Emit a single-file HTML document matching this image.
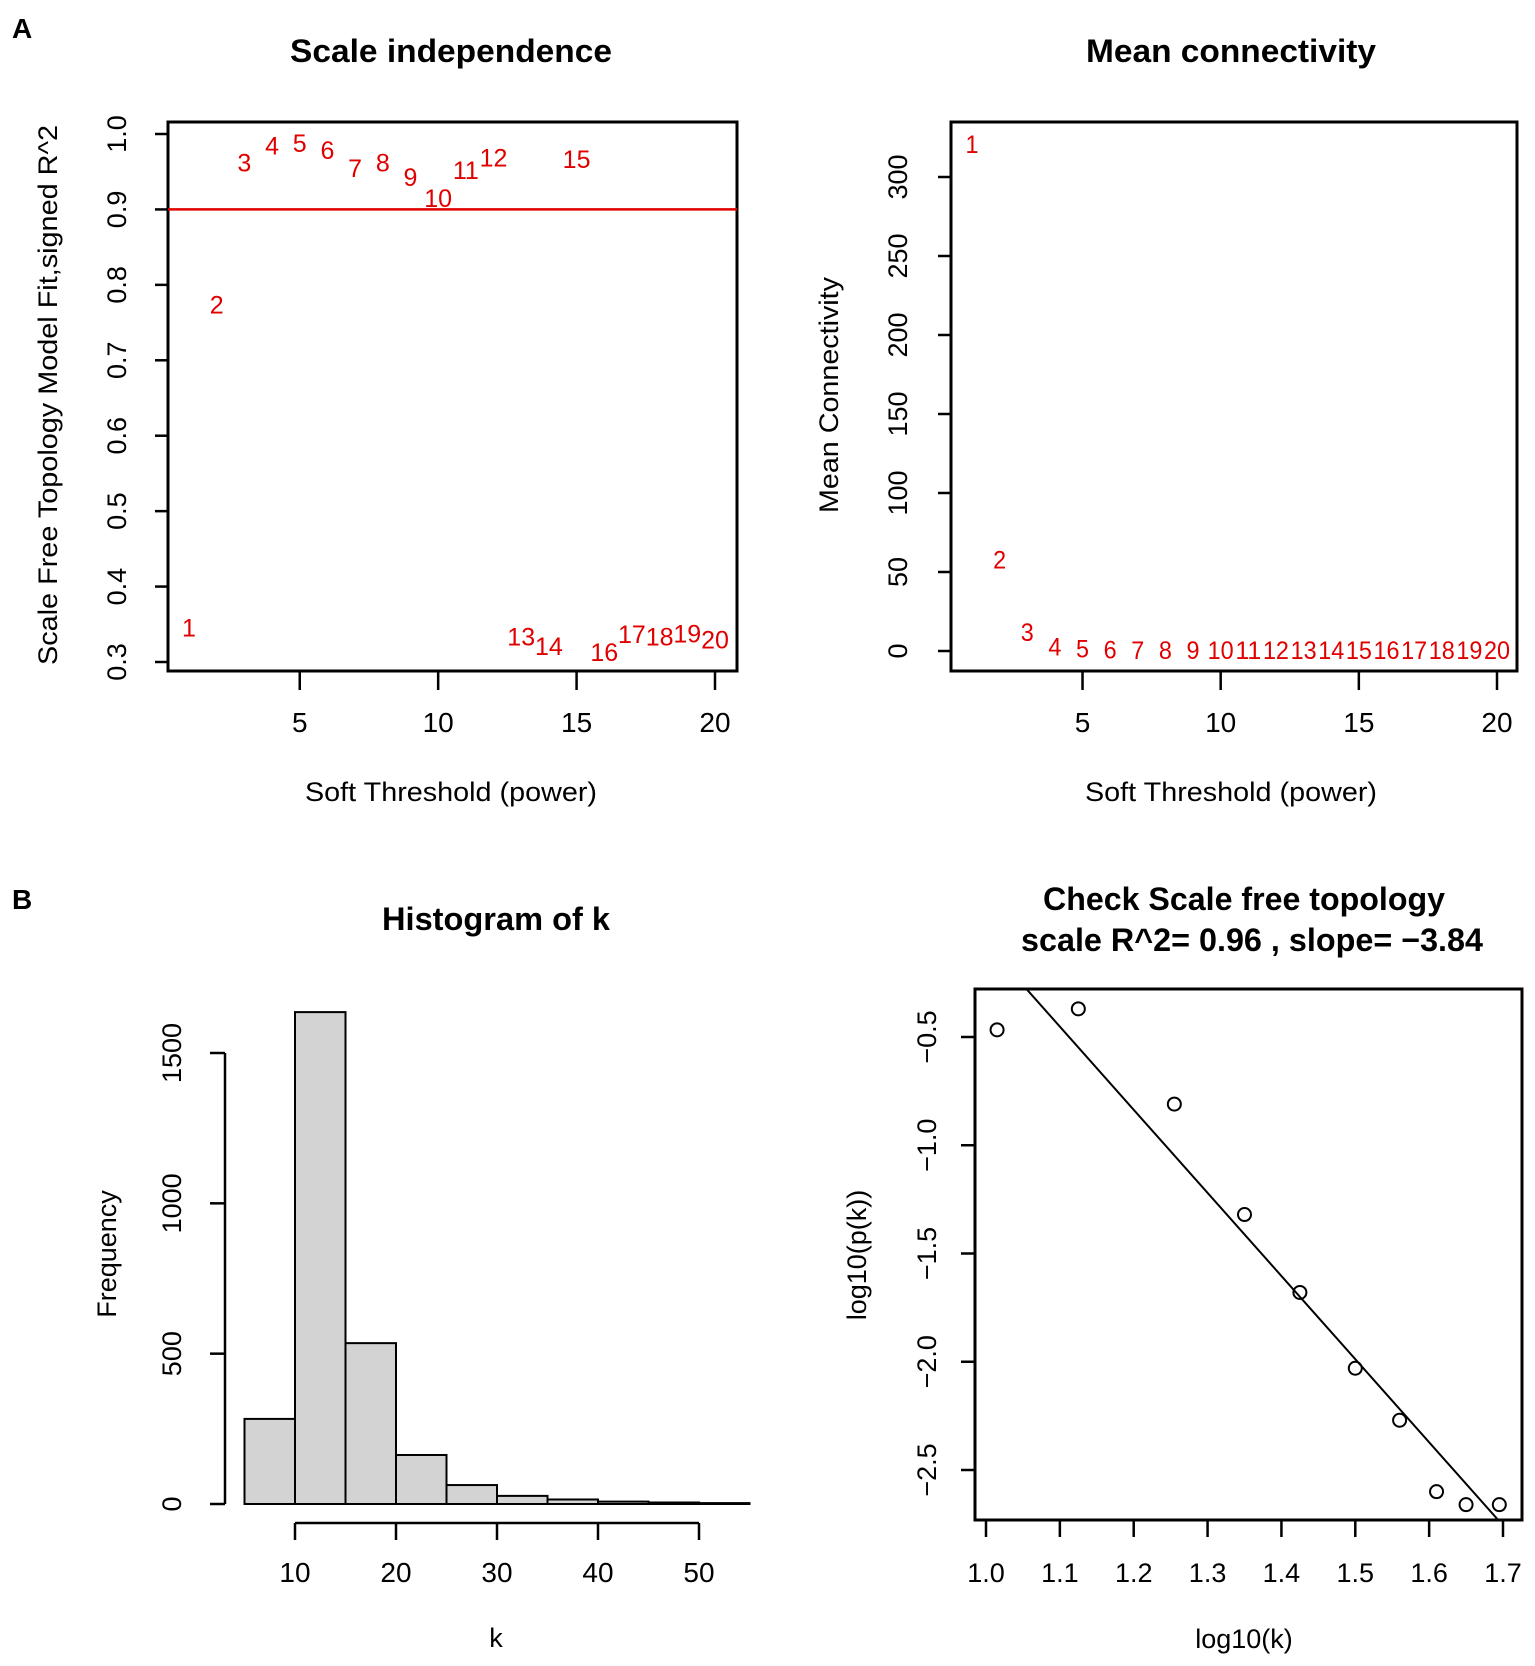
<!DOCTYPE html>
<html><head><meta charset="utf-8">
<style>
html,body{margin:0;padding:0;background:#fff;}
svg{display:block;font-family:"Liberation Sans",Arial,sans-serif;}
</style></head>
<body>
<svg id="fig" width="1535" height="1666" viewBox="0 0 1535 1666">
<text x="12" y="38" font-size="28" font-weight="bold">A</text>
<text x="12" y="909" font-size="28" font-weight="bold">B</text>
<text x="451" y="62" font-size="32" font-weight="bold" text-anchor="middle" textLength="322" lengthAdjust="spacingAndGlyphs">Scale independence</text>
<text x="1231" y="62" font-size="32" font-weight="bold" text-anchor="middle" textLength="290" lengthAdjust="spacingAndGlyphs">Mean connectivity</text>
<text x="451" y="801" font-size="27" text-anchor="middle" textLength="292" lengthAdjust="spacingAndGlyphs">Soft Threshold (power)</text>
<text x="1231" y="801" font-size="27" text-anchor="middle" textLength="292" lengthAdjust="spacingAndGlyphs">Soft Threshold (power)</text>
<text transform="translate(57,395) rotate(-90)" font-size="27" text-anchor="middle" textLength="540" lengthAdjust="spacingAndGlyphs">Scale Free Topology Model Fit,signed R^2</text>
<text transform="translate(838,395) rotate(-90)" font-size="27" text-anchor="middle" textLength="236" lengthAdjust="spacingAndGlyphs">Mean Connectivity</text>
<text x="496" y="930" font-size="32" font-weight="bold" text-anchor="middle" textLength="228" lengthAdjust="spacingAndGlyphs">Histogram of k</text>
<text x="496" y="1647" font-size="27" text-anchor="middle">k</text>
<text transform="translate(116,1254) rotate(-90)" font-size="27" text-anchor="middle">Frequency</text>
<text x="1244" y="910" font-size="32" font-weight="bold" text-anchor="middle" textLength="402" lengthAdjust="spacingAndGlyphs">Check Scale free topology</text>
<text x="1252" y="951" font-size="32" font-weight="bold" text-anchor="middle" textLength="462" lengthAdjust="spacingAndGlyphs">scale R^2= 0.96 , slope= −3.84</text>
<text x="1244" y="1648" font-size="27" text-anchor="middle">log10(k)</text>
<text transform="translate(866,1255) rotate(-90)" font-size="27" text-anchor="middle">log10(p(k))</text>
<g id="g1"></g><g id="g2"></g><g id="g3"></g><g id="g4"></g>
</svg>
<script>
// Panel A1: scale independence
const powers = [1,2,3,4,5,6,7,8,9,10,11,12,13,14,15,16,17,18,19,20];
const fitR2 = [0.346,0.774,0.962,0.985,0.988,0.979,0.955,0.962,0.943,0.915,0.952,0.969,0.334,0.321,0.967,0.313,0.337,0.334,0.338,0.330];
const r2Ticks = [0.3,0.4,0.5,0.6,0.7,0.8,0.9,1.0];
const r2Cutoff = 0.9;
const powerTicks = [5,10,15,20];
// Panel A2: mean connectivity
const meanK = [321,58,12,3,1.5,1,0.7,0.6,0.5,0.5,0.5,0.5,0.5,0.5,0.5,0.5,0.5,0.5,0.5,0.5];
const kTicks = [0,50,100,150,200,250,300];
// Panel B1: histogram
const binStarts = [5,10,15,20,25,30,35,40,45,50];
const binWidth = 5;
const binCounts = [283,1636,535,163,63,27,15,8,5,3];
const freqTicks = [0,500,1000,1500];
const histXTicks = [10,20,30,40,50];
// Panel B2: scale-free check
const logK = [1.015,1.125,1.255,1.35,1.425,1.5,1.56,1.61,1.65,1.695];
const logPk = [-0.467,-0.37,-0.81,-1.32,-1.68,-2.03,-2.27,-2.6,-2.66,-2.66];
const fitIntercept = 3.772;
const fitSlope = -3.84;
const lkTicks = [1.0,1.1,1.2,1.3,1.4,1.5,1.6,1.7];
const lpTicks = [-0.5,-1.0,-1.5,-2.0,-2.5];

const NS='http://www.w3.org/2000/svg';
function mk(parent,tag,attrs){const e=document.createElementNS(NS,tag);for(const k in attrs)e.setAttribute(k,attrs[k]);parent.appendChild(e);return e;}
function lin(d0,d1,r0,r1){return v=>r0+(v-d0)*(r1-r0)/(d1-d0);}

// ---- A1
(function(){
const g=document.getElementById('g1');
const x=lin(1,20,189,715), y=lin(0.3,1.0,662,134);
let b=mk(g,'rect',{x:168,y:122,width:569,height:549,fill:'none',stroke:'#000','stroke-width':3});


let l=mk(g,'line',{x1:168,x2:737,y1:y(r2Cutoff),y2:y(r2Cutoff),stroke:'#e00000','stroke-width':2.5});


r2Ticks.forEach(v=>{
 let t=mk(g,'line',{x1:155,x2:168,y1:y(v),y2:y(v),stroke:'#000','stroke-width':2.5});
 
 
 let tx=mk(g,'text',{transform:`translate(126,${y(v)}) rotate(-90)`,'font-size':27,'text-anchor':'middle'});
 tx.textContent=v.toFixed(1);
 
 
});
powerTicks.forEach(v=>{
 let t=mk(g,'line',{x1:x(v),x2:x(v),y1:671,y2:690,stroke:'#000','stroke-width':2.5});
 
 
 let tx=mk(g,'text',{x:x(v),y:732,'font-size':28,'text-anchor':'middle'});
 tx.textContent=v;
 
 
});
powers.forEach((p,i)=>{
 let tx=mk(g,'text',{x:x(p),y:y(fitR2[i])+9,'font-size':25,fill:'#e00000','text-anchor':'middle'});
 tx.textContent=p;
 
 
});
})();

// ---- A2
(function(){
const g=document.getElementById('g2');
const x=lin(1,20,972,1497), y=lin(0,300,651,177);
let b=mk(g,'rect',{x:951,y:122,width:566,height:549,fill:'none',stroke:'#000','stroke-width':3});


kTicks.forEach(v=>{
 let t=mk(g,'line',{x1:938,x2:951,y1:y(v),y2:y(v),stroke:'#000','stroke-width':2.5});
 
 
 let tx=mk(g,'text',{transform:`translate(907,${y(v)}) rotate(-90)`,'font-size':27,'text-anchor':'middle'});
 tx.textContent=v;
 
 
});
powerTicks.forEach(v=>{
 let t=mk(g,'line',{x1:x(v),x2:x(v),y1:671,y2:690,stroke:'#000','stroke-width':2.5});
 
 
 let tx=mk(g,'text',{x:x(v),y:732,'font-size':28,'text-anchor':'middle'});
 tx.textContent=v;
 
 
});
powers.forEach((p,i)=>{
 let tx=mk(g,'text',{x:x(p),y:y(meanK[i])+9,'font-size':25,fill:'#e00000','text-anchor':'middle',textLength:p>=10?26:13,lengthAdjust:'spacingAndGlyphs'});
 tx.textContent=p;
 
 
});
})();

// ---- B1
(function(){
const g=document.getElementById('g3');
const x=lin(10,50,295,699), y=lin(0,1500,1504,1053);
binStarts.forEach((s,i)=>{
 let r=mk(g,'rect',{x:x(s),y:y(binCounts[i]),width:x(s+binWidth)-x(s),height:y(0)-y(binCounts[i]),fill:'#d3d3d3',stroke:'#000','stroke-width':2});
 
 
});
let ya=mk(g,'line',{x1:225,x2:225,y1:y(0),y2:y(1500),stroke:'#000','stroke-width':2.5});


freqTicks.forEach(v=>{
 let t=mk(g,'line',{x1:210,x2:225,y1:y(v),y2:y(v),stroke:'#000','stroke-width':2.5});
 
 
 let tx=mk(g,'text',{transform:`translate(181,${y(v)}) rotate(-90)`,'font-size':27,'text-anchor':'middle'});
 tx.textContent=v;
 
 
});
let xa=mk(g,'line',{x1:x(10),x2:x(50),y1:1523,y2:1523,stroke:'#000','stroke-width':2.5});


histXTicks.forEach(v=>{
 let t=mk(g,'line',{x1:x(v),x2:x(v),y1:1523,y2:1540,stroke:'#000','stroke-width':2.5});
 
 
 let tx=mk(g,'text',{x:x(v),y:1582,'font-size':28,'text-anchor':'middle'});
 tx.textContent=v;
 
 
});
})();

// ---- B2
(function(){
const g=document.getElementById('g4');
const x=lin(1.0,1.7,986,1503), y=lin(-0.5,-2.5,1037,1470);
const L=975,R=1522,T=989,B=1520;
let b=mk(g,'rect',{x:L,y:T,width:R-L,height:B-T,fill:'none',stroke:'#000','stroke-width':3});


const cp=mk(g,'clipPath',{id:'cb2'});mk(cp,'rect',{x:L,y:T,width:R-L,height:B-T});
const x0=1.0,x1=1.75;
let fl=mk(g,'line',{x1:x(x0),y1:y(fitIntercept+fitSlope*x0),x2:x(x1),y2:y(fitIntercept+fitSlope*x1),stroke:'#000','stroke-width':2,'clip-path':'url(#cb2)'});


logK.forEach((v,i)=>{
 let c=mk(g,'circle',{cx:x(v),cy:y(logPk[i]),r:6.5,fill:'none',stroke:'#000','stroke-width':2});
 
 
});
lpTicks.forEach(v=>{
 let t=mk(g,'line',{x1:961,x2:975,y1:y(v),y2:y(v),stroke:'#000','stroke-width':2.5});
 
 
 let tx=mk(g,'text',{transform:`translate(936,${y(v)}) rotate(-90)`,'font-size':27,'text-anchor':'middle'});
 tx.textContent=v.toFixed(1).replace('-','−');
 
 
});
lkTicks.forEach(v=>{
 let t=mk(g,'line',{x1:x(v),x2:x(v),y1:B,y2:B+17,stroke:'#000','stroke-width':2.5});
 
 
 let tx=mk(g,'text',{x:x(v),y:1582,'font-size':27,'text-anchor':'middle'});
 tx.textContent=v.toFixed(1);
 
 
});
})();
</script>
</body></html>
